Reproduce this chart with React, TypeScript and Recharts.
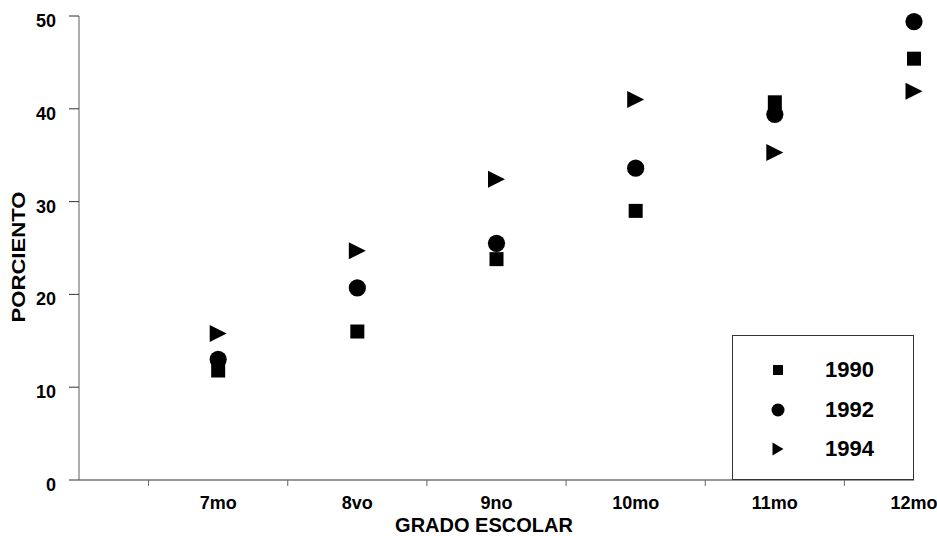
import React from 'react';
import { ScatterChart, Scatter, XAxis, YAxis, Legend, Label } from 'recharts';

const grades = ['7mo', '8vo', '9no', '10mo', '11mo', '12mo'];
const years = ['1990', '1992', '1994'];
const pct1990 = [11.8, 16.0, 23.8, 29.0, 40.7, 45.4];
const pct1992 = [13.0, 20.7, 25.5, 33.6, 39.4, 49.4];
const pct1994 = [15.8, 24.7, 32.4, 41.0, 35.3, 41.9];
const yTicks = [0, 10, 20, 30, 40, 50];

const FONT = '"Liberation Sans", Arial, sans-serif';

const toPoints = (vals: number[]) => vals.map((v, i) => ({ x: i + 1, y: v }));

// tick marks sit halfway between grades, labels on the grades
const xTicks: number[] = [];
grades.forEach((_, i) => {
  xTicks.push(i + 0.5);
  xTicks.push(i + 1);
});

const Square = ({ cx, cy, s = 14 }: any) => (
  <rect x={cx - s / 2} y={cy - s / 2} width={s} height={s} fill="#000" />
);
const Dot = ({ cx, cy, r = 8.6 }: any) => <circle cx={cx} cy={cy} r={r} fill="#000" />;
const Tri = ({ cx, cy, w = 17, h = 17 }: any) => (
  <polygon
    points={`${cx - w / 2},${cy - h / 2} ${cx + w / 2},${cy} ${cx - w / 2},${cy + h / 2}`}
    fill="#000"
  />
);

const XTick = ({ x, y, payload }: any) => {
  const v = payload.value;
  if (v % 1 !== 0) {
    return <line x1={x} x2={x} y1={y} y2={y + 6} stroke="#666" strokeWidth={1} />;
  }
  return (
    <text x={x} y={y + 29} textAnchor="middle" fontFamily={FONT} fontSize={18} fontWeight="bold" fill="#000">
      {grades[v - 1]}
    </text>
  );
};

const YTick = ({ x, y, payload }: any) => (
  <text x={x} y={y + 11} textAnchor="end" fontFamily={FONT} fontSize={18} fontWeight="bold" fill="#000">
    {payload.value}
  </text>
);

const markers = [
  <svg width={20} height={20}><Square cx={10} cy={10} s={10} /></svg>,
  <svg width={20} height={20}><Dot cx={10} cy={10} r={6.5} /></svg>,
  <svg width={20} height={20}><Tri cx={10} cy={10} w={11} h={13} /></svg>,
];

const LegendBox = () => (
  <div
    style={{
      width: 182,
      height: 145,
      boxSizing: 'border-box',
      border: '1px solid #333',
      background: '#fff',
      position: 'relative',
      fontFamily: FONT,
    }}
  >
    {years.map((yr, i) => (
      <div key={yr} style={{ position: 'absolute', left: 0, top: 34 + i * 39.5 - 13, height: 26, width: 180 }}>
        <div style={{ position: 'absolute', left: 35, top: 3 }}>{markers[i]}</div>
        <div style={{ position: 'absolute', left: 92, top: 0, fontSize: 22, fontWeight: 'bold', lineHeight: '26px', color: '#000' }}>
          {yr}
        </div>
      </div>
    ))}
  </div>
);

export default function App() {
  return (
    <div style={{ position: 'absolute', left: 0, top: 0, background: '#fff' }}>
      <ScatterChart width={937} height={536} margin={{ top: 16, right: 23, left: 0, bottom: 0 }}>
        <XAxis
          type="number"
          dataKey="x"
          domain={[0, 6]}
          ticks={xTicks}
          interval={0}
          tickSize={0}
          tickMargin={0}
          tickLine={false}
          tick={<XTick />}
          height={56}
          axisLine={{ stroke: '#333', strokeWidth: 1.2 }}
        >
          <Label
            content={() => (
              <text x={484} y={532} textAnchor="middle" fontFamily={FONT} fontSize={20} fontWeight="bold" fill="#000">
                GRADO ESCOLAR
              </text>
            )}
          />
        </XAxis>
        <YAxis
          type="number"
          dataKey="y"
          domain={[0, 50]}
          ticks={yTicks}
          interval={0}
          width={79}
          tickSize={10}
          tickMargin={13}
          tick={<YTick />}
          tickLine={{ stroke: '#333' }}
          axisLine={{ stroke: '#777', strokeWidth: 1.2 }}
        >
          <Label
            content={() => (
              <text
                x={25}
                y={257}
                transform="rotate(-90 25 257)"
                textAnchor="middle"
                fontFamily={FONT}
                fontSize={18}
                fontWeight="bold"
                fill="#000"
                textLength={131}
                lengthAdjust="spacingAndGlyphs"
              >
                PORCIENTO
              </text>
            )}
          />
        </YAxis>
        <Legend
          layout="horizontal"
          verticalAlign="middle"
          align="center"
          content={() => <LegendBox />}
          wrapperStyle={{ left: 732, top: 335, width: 182, height: 145 }}
        />
        <Scatter name="1990" data={toPoints(pct1990)} shape={<Square />} isAnimationActive={false} />
        <Scatter name="1992" data={toPoints(pct1992)} shape={<Dot />} isAnimationActive={false} />
        <Scatter name="1994" data={toPoints(pct1994)} shape={<Tri />} isAnimationActive={false} />
      </ScatterChart>
    </div>
  );
}
